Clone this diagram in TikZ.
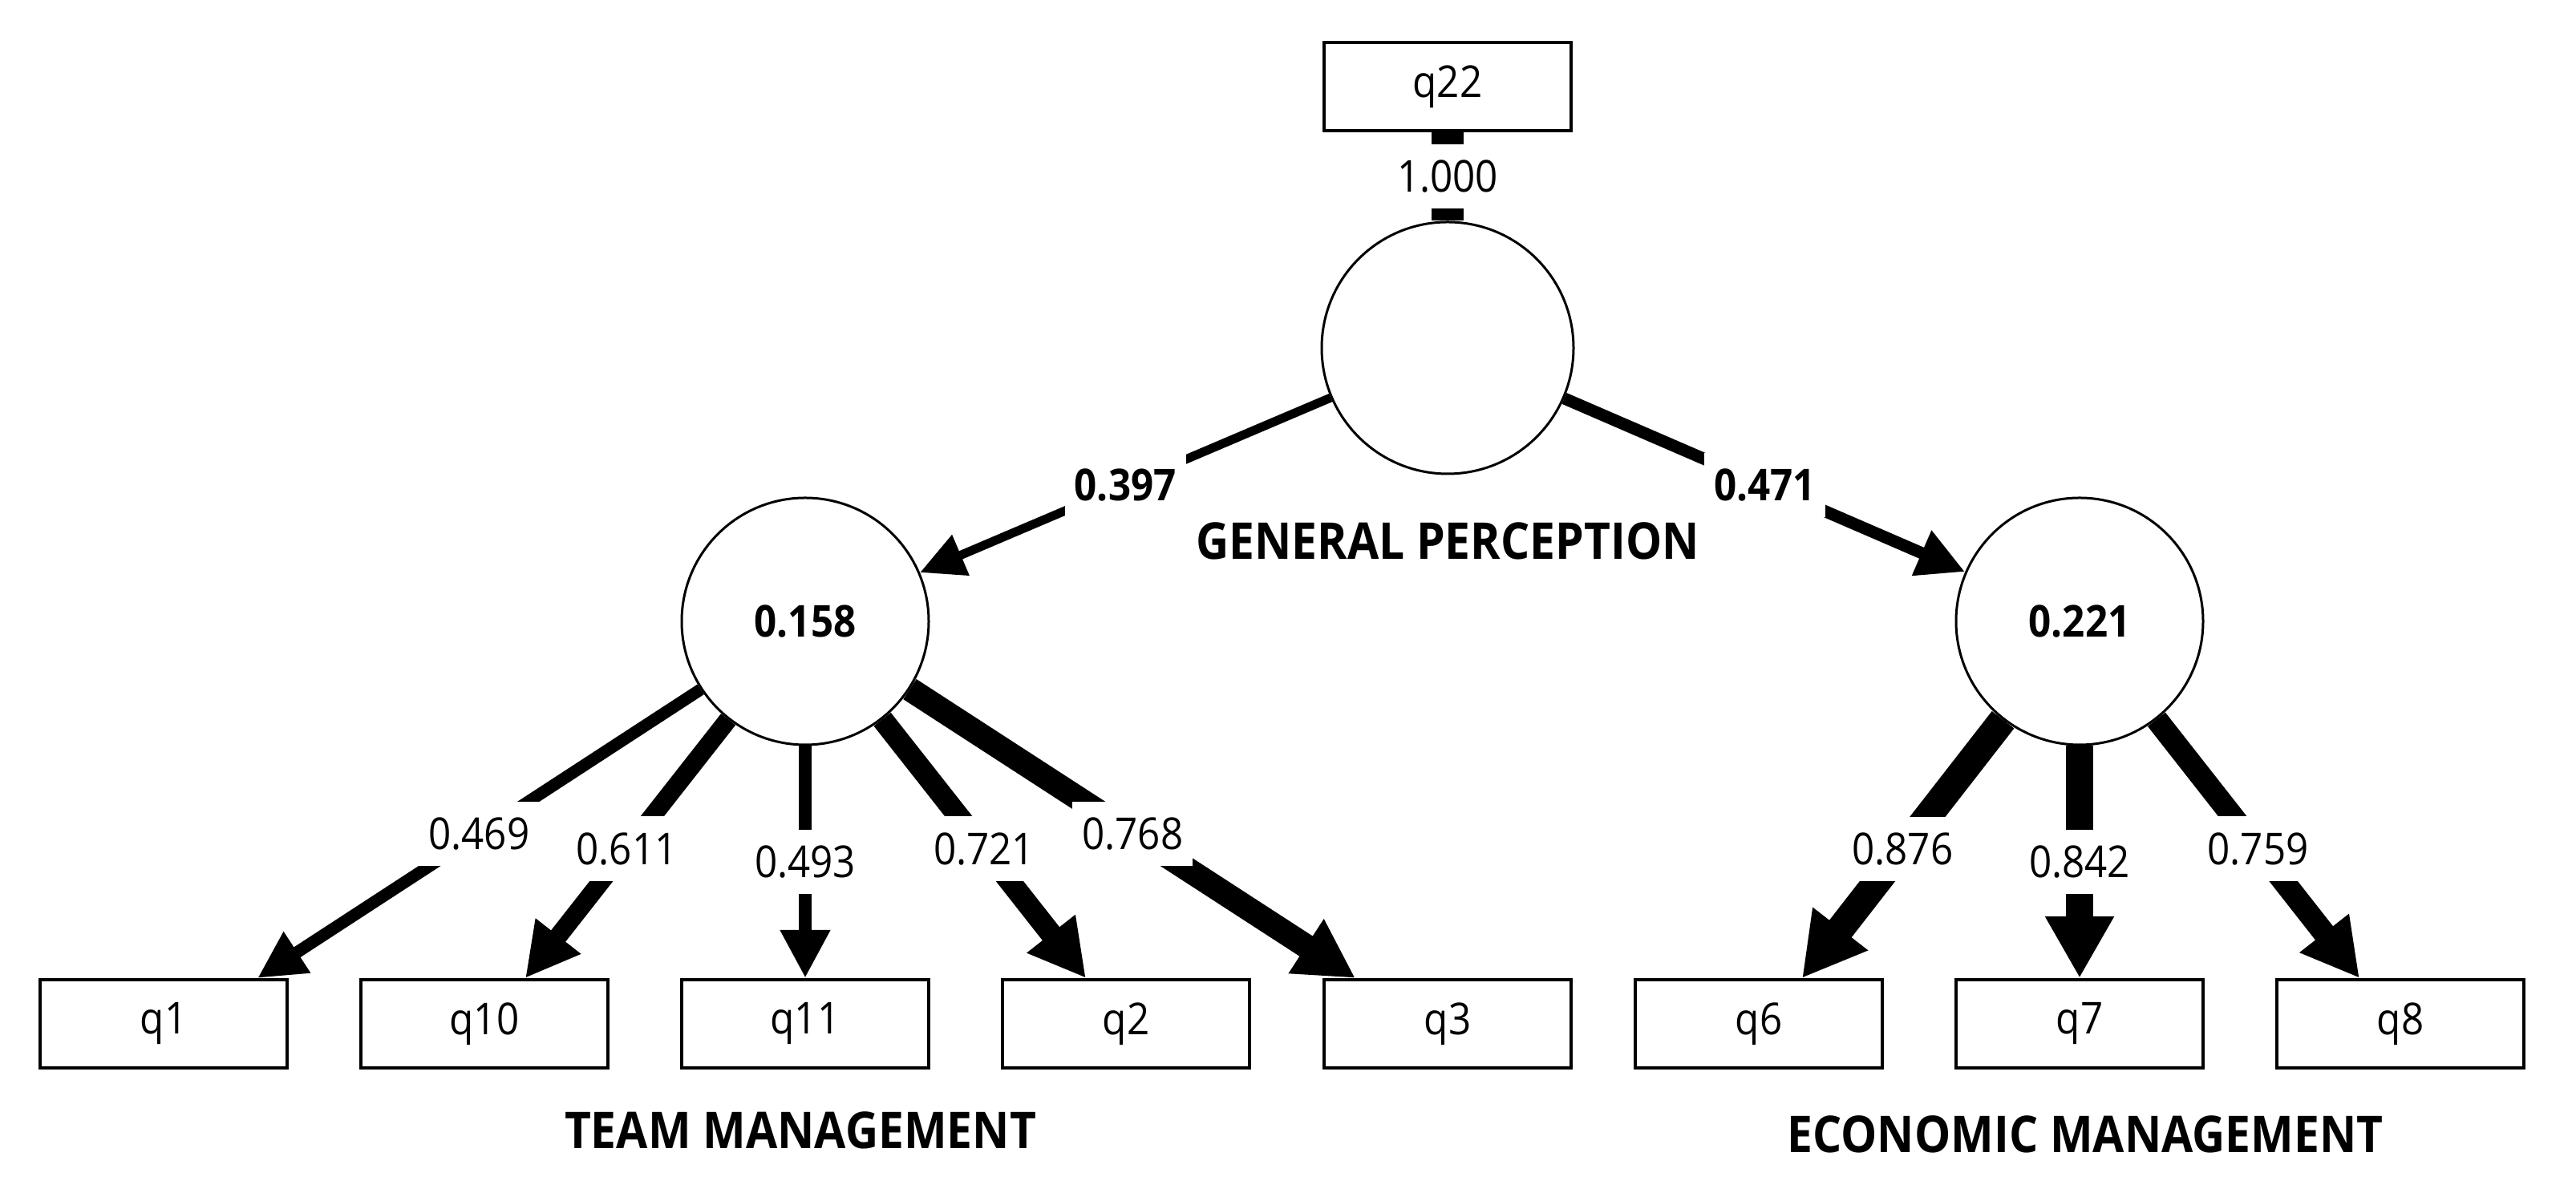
\documentclass[tikz,border=0pt]{standalone}
\usepackage{fontspec}
\setmainfont[FakeStretch=0.9]{Open Sans}
\usetikzlibrary{arrows.meta}

\begin{document}
\begin{tikzpicture}[
  obs/.style={draw, line width=0.04cm, minimum width=3.08cm, minimum height=1.10cm,
    inner sep=0pt, font=\fontsize{15.6}{18}\selectfont},
  lat/.style={circle, draw, line width=0.03cm, minimum size=3.08cm, inner sep=0pt,
    font=\bfseries\fontsize{15.6}{18}\selectfont},
  coef/.style={fill=white, inner xsep=0.12cm, inner ysep=0.2cm,
    font=\fontsize{15.6}{18}\selectfont},
  coefb/.style={coef, font=\bfseries\fontsize{15.6}{18}\selectfont},
  group/.style={font=\bfseries\fontsize{18}{22}\selectfont},
  effect/.style={-{Triangle[length=0.45cm 0.94, width=0.39cm 1.22]}}
]
  \useasboundingbox (0,0) rectangle (32.12,14.93);

  \node[obs] (q22) at (18.05,13.85) {q22};
  \node[lat, minimum size=3.14cm] (gp) at (18.05,10.59) {};
  \node[group] (gplab) at (18.05,8.18) {GENERAL PERCEPTION};

  \node[lat] (tm) at (10.04,7.18) {0.158};
  \node[lat] (em) at (25.93,7.18) {0.221};

  \node[obs] (q1) at (2.04,2.16) {q1};
  \node[obs] (q10) at (6.04,2.16) {q10};
  \node[obs] (q11) at (10.04,2.16) {q11};
  \node[obs] (q2) at (14.04,2.16) {q2};
  \node[obs] (q3) at (18.05,2.16) {q3};
  \node[obs] (q6) at (21.93,2.16) {q6};
  \node[obs] (q7) at (25.93,2.16) {q7};
  \node[obs] (q8) at (29.93,2.16) {q8};

  \node[group] (tmlab) at (9.98,0.83) {TEAM MANAGEMENT};
  \node[group] (emlab) at (26.0,0.78) {ECONOMIC MANAGEMENT};

  \draw[line width=0.40cm] (q22) -- node[coef] {1.000} (gp);
  \draw[effect, line width=0.11cm] (gp) -- node[coefb] {0.397} (tm);
  \draw[effect, line width=0.15cm] (gp) -- node[coefb] {0.471} (em);

  \draw[effect, line width=0.15cm] (tm) -- node[coef] {0.469} ([xshift=1.17cm]q1.north);
  \draw[effect, line width=0.23cm] (tm) -- node[coef] {0.611} ([xshift=0.51cm]q10.north);
  \draw[effect, line width=0.16cm] (tm) -- node[coef] {0.493} (q11.north);
  \draw[effect, line width=0.27cm] (tm) -- node[coef] {0.721} ([xshift=-0.50cm]q2.north);
  \draw[effect, line width=0.30cm] (tm) -- node[coef] {0.768} ([xshift=-1.15cm]q3.north);

  \draw[effect, line width=0.35cm] (em) -- node[coef] {0.876} ([xshift=0.54cm]q6.north);
  \draw[effect, line width=0.34cm] (em) -- node[coef] {0.842} (q7.north);
  \draw[effect, line width=0.28cm] (em) -- node[coef] {0.759} ([xshift=-0.51cm]q8.north);
\end{tikzpicture}
\end{document}
